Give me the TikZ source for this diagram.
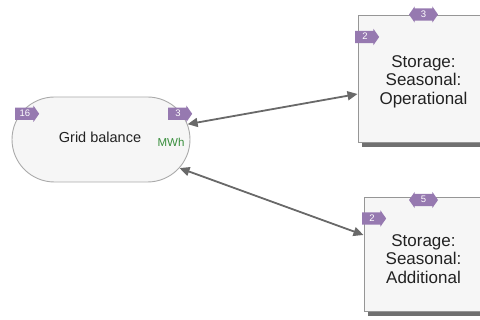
\documentclass[tikz,border=0pt]{standalone}
\usepackage{fontspec}
\setmainfont{Liberation Sans}
\usetikzlibrary{arrows.meta,shapes.arrows,shapes.misc,shadows}

\definecolor{badge}{RGB}{150,121,176}
\definecolor{edgegray}{RGB}{105,105,105}
\definecolor{boxfill}{RGB}{246,246,246}
\definecolor{boxline}{RGB}{150,150,150}
\definecolor{gridline}{RGB}{170,170,170}
\definecolor{shadowgray}{RGB}{112,112,112}
\definecolor{unitgreen}{RGB}{56,142,60}
\definecolor{labeltext}{RGB}{34,34,34}

\tikzset{
  portbase/.style={fill=badge, draw=none, inner xsep=1.5pt, inner ysep=0pt,
    text height=9pt, text depth=3pt, text=white,
    font=\fontsize{9.5}{9.5}\selectfont},
  inport/.style={portbase, single arrow,
    single arrow head extend=2pt, single arrow tip angle=110,
    minimum height=24pt},
  bothport/.style={portbase, double arrow,
    double arrow head extend=2pt, double arrow tip angle=110,
    minimum height=29pt},
  gridnode/.style={rounded rectangle, draw=gridline, fill=boxfill,
    line width=0.9pt, minimum width=178pt, minimum height=85pt, inner sep=0pt},
  storebox/.style={rectangle, draw=boxline, fill=boxfill, line width=1pt,
    inner sep=0pt,
    general shadow={fill=shadowgray, shadow xshift=4pt, shadow yshift=-4pt}},
  storetext/.style={align=center, text=labeltext,
    font=\fontsize{17}{18.5}\selectfont},
  gridtext/.style={text=labeltext, font=\fontsize{14.5}{16}\selectfont},
  unit/.style={text=unitgreen, font=\fontsize{11.5}{12}\selectfont},
  flow/.style={draw=edgegray, line width=1.8pt,
    {Triangle[length=10pt,width=9pt]}-{Triangle[length=10pt,width=9pt]}}
}

\begin{document}
\begin{tikzpicture}[x=1pt,y=-1pt]
\useasboundingbox (0,0) rectangle (480,320);
\clip (0,0) rectangle (480,320);

% grid balance node
\node[gridnode] (grid) at (101,139.5) {};
\node[gridtext] (gridlbl) at (100,137) {Grid balance};
\node[unit] (mwh) at (171,142) {MWh};
\node[inport] (gin) at (25,113.8) {16};
\node[inport] (gout) at (178,113.8) {3};

% seasonal storage: operational
\node[storebox, minimum width=131pt, minimum height=127.5pt] (op) at (423.5,79.25) {};
\node[storetext] (oplbl) at (423.5,81.5) {Storage:\\Seasonal:\\Operational};
\node[inport] (opin) at (365,37) {2};
\node[bothport] (opio) at (423.5,14.5) {3};

% seasonal storage: additional
\node[storebox, minimum width=119pt, minimum height=114pt] (add) at (423.5,255) {};
\node[storetext] (addlbl) at (423.5,259) {Storage:\\Seasonal:\\Additional};
\node[inport] (addin) at (372,218.5) {2};
\node[bothport] (addio) at (423.5,200) {5};

% exchanges with storage
\draw[flow] (grid.10) -- ([yshift=-14.75pt]op.west);
\draw[flow] (grid.-20) -- ([yshift=20pt]add.west);
\end{tikzpicture}
\end{document}
